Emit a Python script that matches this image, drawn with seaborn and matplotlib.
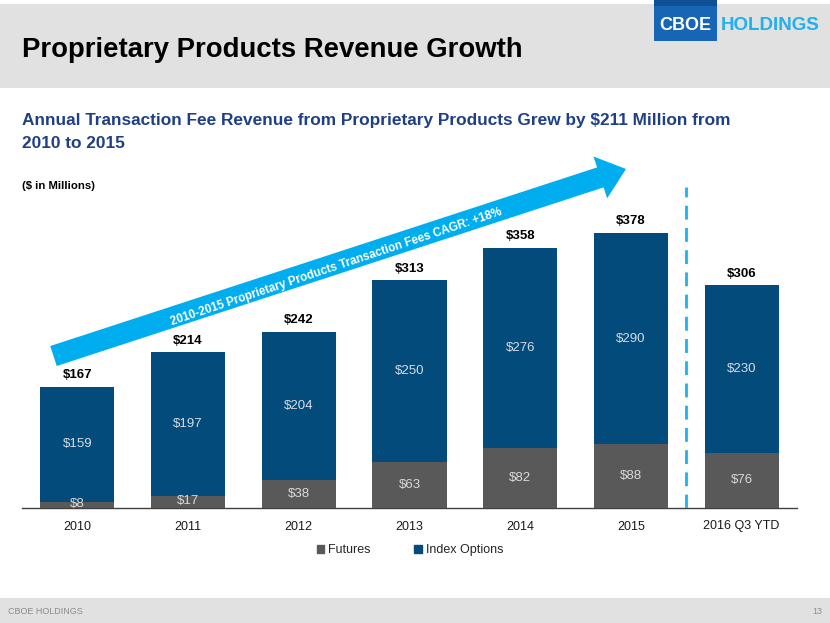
import matplotlib
matplotlib.use("Agg")
import matplotlib.pyplot as plt
import seaborn as sns
import pandas as pd
from matplotlib.patches import Rectangle, FancyArrow, Patch

# ---- data ----
categories = ["2010", "2011", "2012", "2013", "2014", "2015", "2016 Q3 YTD"]
futures = [8, 17, 38, 63, 82, 88, 76]
index_options = [159, 197, 204, 250, 276, 290, 230]
totals = [167, 214, 242, 313, 358, 378, 306]

NAVY = "#034b7b"
GRAY = "#595959"
LIGHTBLUE = "#00aeef"

sns.set_theme(style="white")
plt.rcParams["font.family"] = ["Liberation Sans", "DejaVu Sans"]

W, H = 830, 623
fig = plt.figure(figsize=(W / 100, H / 100), dpi=100)

# overlay axes in pixel coordinates
bg = fig.add_axes([0, 0, 1, 1], zorder=0)
bg.set_xlim(0, W)
bg.set_ylim(H, 0)
bg.axis("off")
bg.add_patch(Rectangle((0, 4), W, 84, color="#e1e1e1", lw=0))
bg.add_patch(Rectangle((0, 598), W, 25, color="#e1e1e1", lw=0))
# logo
bg.add_patch(Rectangle((654, 0), 63, 41, color="#1666b5", lw=0))
bg.add_patch(Rectangle((654, 0), 63, 6, color="#0f4f94", lw=0))
bg.text(685.5, 25, "CBOE", color="white", fontsize=13, fontweight="bold",
        ha="center", va="center")
bg.text(721, 25, "HOLDINGS", color="#1fb0ee", fontsize=13.5, fontweight="bold",
        ha="left", va="center")

bg.text(22, 50, "Proprietary Products Revenue Growth", fontsize=19.8, fontweight="bold",
        color="black", ha="left", va="center")
bg.text(22, 120, "Annual Transaction Fee Revenue from Proprietary Products Grew by $211 Million from",
        fontsize=12.4, fontweight="bold", color="#1f3f86", ha="left", va="center")
bg.text(22, 143, "2010 to 2015", fontsize=12.4, fontweight="bold", color="#1f3f86",
        ha="left", va="center")
bg.text(22, 186, "($ in Millions)", fontsize=8.2, fontweight="bold", color="black",
        ha="left", va="center")
bg.text(8, 612, "CBOE HOLDINGS", fontsize=6.5, color="#8c8c8c", ha="left", va="center")
bg.text(822, 612, "13", fontsize=6.5, color="#8c8c8c", ha="right", va="center")

# ---- chart ----
ax = fig.add_axes([22 / W, 1 - 508 / H, 775 / W, 328 / H], zorder=1)
ax.patch.set_alpha(0)
df = pd.DataFrame({"cat": categories, "fut": futures, "idx": index_options, "tot": totals})
sns.barplot(data=df, x="cat", y="tot", color=NAVY, width=0.67, saturation=1, ax=ax,
            zorder=2, linewidth=0, edgecolor="none")
sns.barplot(data=df, x="cat", y="fut", color=GRAY, width=0.67, saturation=1, ax=ax,
            zorder=3, linewidth=0, edgecolor="none")
ax.set_xlim(-0.5, len(categories) - 0.5)
ax.set_ylim(0, 451)
ax.set_xlabel("")
ax.set_ylabel("")
ax.set_yticks([])
for s in ["top", "right", "left"]:
    ax.spines[s].set_visible(False)
ax.spines["bottom"].set_color("#404040")
ax.spines["bottom"].set_linewidth(1)
ax.set_xticks(range(len(categories)))
ax.set_xticklabels(categories, fontsize=9, color="#1a1a1a")
ax.tick_params(axis="x", length=0, pad=9)
ax.set_xticks([i - 0.5 for i in range(len(categories) + 1)], minor=True)
ax.tick_params(axis="x", which="minor", length=5, width=1, color="#404040", direction="out")

for i, (f, o, t) in enumerate(zip(futures, index_options, totals)):
    ax.text(i, t + 8, f"${t}", ha="center", va="bottom", fontsize=9.5, fontweight="bold",
            color="black", zorder=5)
    ax.text(i, f + o / 2, f"${o}", ha="center", va="center", fontsize=9.5,
            color="#d4dce6", zorder=5)
    fy = f / 2 if f > 20 else f / 2 + 1
    ax.text(i, fy, f"${f}", ha="center", va="center", fontsize=9.5,
            color="#d9d9d9", zorder=5)

ax.axvline(5.5, ymin=0, ymax=0.98, color="#1fb0ee", lw=2, ls=(0, (5, 3)), zorder=4)

# ---- arrow overlay ----
ov = fig.add_axes([0, 0, 1, 1], zorder=2)
ov.set_xlim(0, W)
ov.set_ylim(H, 0)
ov.axis("off")
x0, y0 = 53.5, 356
x1, y1 = 626, 169
ov.add_patch(FancyArrow(x0, y0, x1 - x0, y1 - y0, width=21, head_width=44, head_length=27,
                        length_includes_head=True, color=LIGHTBLUE, lw=0))
ov.text(336, 267, "2010-2015 Proprietary Products Transaction Fees CAGR: +18%",
        rotation=18.5, rotation_mode="anchor", ha="center", va="center",
        fontsize=8.4, fontweight="bold", color="white")

fig.legend(handles=[Patch(color=GRAY, label="Futures"), Patch(color=NAVY, label="Index Options")],
           loc="center", bbox_to_anchor=(410 / W, 1 - 550 / H), ncol=2, frameon=False,
           fontsize=9, handlelength=0.6, handleheight=0.6, handletextpad=0.3,
           columnspacing=3.5)

fig.savefig("out.png", dpi=100)
